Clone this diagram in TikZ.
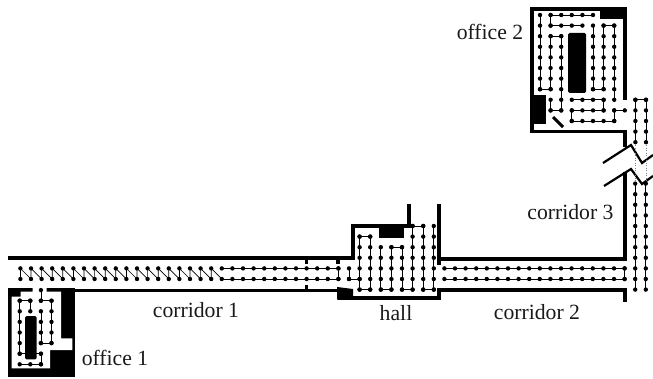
\documentclass[tikz,border=0pt]{standalone}
\usepackage{fontspec}
\setmainfont{Liberation Serif}

\tikzset{
  wall/.style={line width=3.6pt},
  block/.style={fill=black, draw=none},
  trace/.style={line width=0.7pt},
  place/.style={font=\fontsize{21.7}{24}\selectfont, inner sep=0pt, text=black!90},
  bead/.style={circle, fill=black, inner sep=0pt, minimum size=4.4pt}
}
\newcommand{\vtrace}[3]{
  \draw[trace] (#1,#2) -- (#1,#3);
  \foreach \ry in {#2,...,#3} \node[bead] at (#1,\ry) {};
}
\newcommand{\htrace}[3]{
  \draw[trace] (#2,#1) -- (#3,#1);
  \foreach \rx in {#2,...,#3} \node[bead] at (\rx,#1) {};
}

\begin{document}
\begin{tikzpicture}[x=1pt, y=-1pt]
  \useasboundingbox (0,0) rectangle (653,379);

  % Corridors
  \draw[wall] (8,258) -- (353,258) -- (353,226) -- (409,226) -- (409,204);
  \draw[wall] (75,290.5) -- (338,290.5);
  \draw[wall] (439,204) -- (439,265);
  \draw[wall] (439,259) -- (625,259) -- (625,172);
  \draw[wall] (338,298) -- (439,298) -- (439,288);
  \draw[wall] (439,290) -- (625,290) -- (625,302);
  \foreach \x/\a/\b in {306.5/258/264, 306.5/285/290, 338/258/264} {
    \draw[wall] (\x,\a) -- (\x,\b);
  }
  \fill[block] (379,226) rectangle (404,238);
  \fill[block] (337,287) -- (353,289) -- (353,299.5) -- (337,299.5) -- cycle;

  % Coupures du couloir 3
  \draw[line width=2.2pt] (603,163) -- (631,145) -- (642,163) -- (653,155);
  \draw[line width=2.2pt] (604,186) -- (631,169) -- (642,184) -- (653,176);
  \draw[black!50, dotted, line width=0.5pt] (635.2,143) -- (635.2,184);
  \draw[black!50, dotted, line width=0.5pt] (645.8,143) -- (645.8,184);

  % Bureau 1
  \fill[block] (8,288) rectangle (75,376.7);
  \fill[white] (11.7,296.7) -- (20.7,296.7) -- (20.7,291.7) -- (32.7,291.7) -- (32.7,287)
    -- (46.7,287) -- (46.7,291.7) -- (61,291.7) -- (61,338.3) -- (72.3,338.3) -- (72.3,350)
    -- (50,350) -- (50,368.3) -- (11.7,368.3) -- cycle;
  \fill[block, rounded corners=1.5pt] (25,316) rectangle (36.7,359.3);

  % Bureau 2
  \draw[wall] (625,100) -- (625,9) -- (532,9) -- (532,131.5) -- (625,131.5) -- (625,147);
  \fill[block] (600,9) rectangle (625,19);
  \fill[block] (532,95) rectangle (545.5,124);
  \fill[block, rounded corners=1.5pt] (568,33) rectangle (586,93);
  \draw[line width=3pt] (553,117) -- (563,127);

  % Parcours dans le bureau 1
  \begin{scope}[shift={(19.7,300.7)}, x=10.6pt, y=-10.6pt]
    \foreach \cx/\ra/\rb in {0/0/5, 1/0/1, 2/1/4, 3/0/4, 2/-1/0, 2/5/6} {
      \vtrace{\cx}{\ra}{\rb}
    }
    \foreach \ry/\ca/\cb in {0/0/1, 0/2/3, 4/2/3, 5/0/2, 6/0/2} {
      \htrace{\ry}{\ca}{\cb}
    }
  \end{scope}

  % Parcours dans les couloirs et le hall
  \begin{scope}[shift={(349,226)}, x=10.6pt, y=-10.6pt]
    \foreach \cx in {-31,...,-13} {
      \draw[trace] (\cx,5) -- (\cx,4) -- (\cx+1,5);
      \node[bead] at (\cx,4) {};
      \node[bead] at (\cx,5) {};
    }
    \foreach \cx/\ra/\rb in {-1/4/5, 0/4/5, 1/1/6, 2/1/6, 3/2/6, 4/2/6, 5/2/6, 6/0/6, 7/0/6, 8/0/6, 26/4/5, 27/-4/6, 28/-4/6} {
      \vtrace{\cx}{\ra}{\rb}
    }
    \foreach \ry/\ca/\cb in {0/6/7, 1/1/2, 2/4/5, 5/0/1, 6/1/2, 6/3/4, 6/5/6, 6/7/8, 4/-12/-1, 5/-12/-1, 4/9/26, 5/9/26} {
      \htrace{\ry}{\ca}{\cb}
    }
  \end{scope}

  % Parcours dans le bureau 2
  \begin{scope}[shift={(540,15)}, x=10.6pt, y=-10.6pt]
    \foreach \cx/\ra/\rb in {0/0/7, 1/0/1, 1/2/7, 2/2/9, 1/8/9, 5/1/7, 6/1/7, 7/1/8, 6/8/9, 3/9/10, 7/9/10, 9/8/12, 10/8/12} {
      \vtrace{\cx}{\ra}{\rb}
    }
    \foreach \ry/\ca/\cb in {0/1/5, 1/1/4, 2/1/2, 7/0/1, 7/5/6, 1/6/7, 8/3/6, 9/1/2, 9/3/6, 10/3/7, 9/7/8, 8/9/10} {
      \htrace{\ry}{\ca}{\cb}
    }
  \end{scope}

  % Noms des lieux
  \node[place] (corridorun) at (196,310) {corridor 1};
  \node[place] (hall) at (396,313) {hall};
  \node[place] (corridordeux) at (537,312) {corridor 2};
  \node[place] (corridortrois) at (570.5,212) {corridor 3};
  \node[place] (officeun) at (115,358) {office 1};
  \node[place] (officedeux) at (490,32) {office 2};
\end{tikzpicture}
\end{document}
